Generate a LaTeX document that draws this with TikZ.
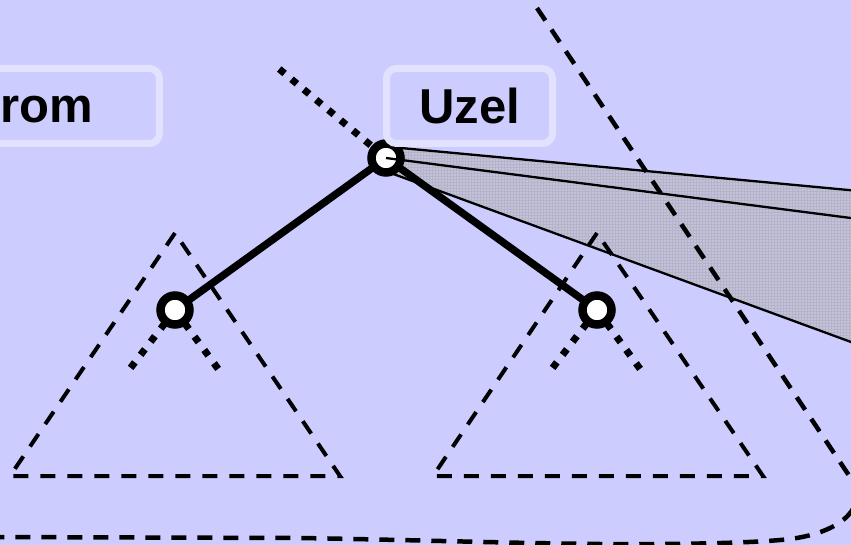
\documentclass[tikz,border=0pt]{standalone}
\usepackage{fontspec}
\setmainfont{Liberation Sans}
\usetikzlibrary{patterns,calc}
\definecolor{bgcol}{RGB}{204,204,255}
\definecolor{boxrim}{RGB}{226,226,255}
\definecolor{fancol}{RGB}{194,194,222}
\definecolor{gridcol}{RGB}{180,180,198}
\pgfdeclarelayer{back}
\pgfdeclarelayer{under}
\pgfsetlayers{back,under,main}

\begin{document}
\begin{tikzpicture}[x=1pt,y=-1pt,
  treenode/.style={circle,draw=black,fill=white,line width=8.5pt,minimum size=29pt,inner sep=0pt,outer sep=0pt},
  labelbox/.style={draw=boxrim,fill=bgcol,line width=7pt,rounded corners=10pt,
    minimum height=75pt,inner sep=0pt,font=\bfseries\fontsize{49}{49}\selectfont},
  edge/.style={line width=7.5pt},
  dotline/.style={line width=7pt,dash pattern=on 7pt off 9pt},
  tri/.style={line width=4pt,dash pattern=on 15pt off 12pt},
  hull/.style={line width=4.5pt,dash pattern=on 15pt off 11pt},
  ray/.style={line width=2.3pt}]

\useasboundingbox (0,0) rectangle (851,545);
\clip (0,0) rectangle (851,545);

% tree nodes
\node[treenode] (root) at (386,158) {};
\node[treenode] (lc) at (175,310) {};
\node[treenode] (rc) at (597,310) {};

% ends of the rays and of the dotted stubs
\coordinate (rayT0) at ($(root.center)+(0,-11.4)$);
\coordinate (rayT1) at (860,191.1);
\coordinate (rayM1) at (860,219.2);
\coordinate (rayB0) at ($(root.center)+(0,13.3)$);
\coordinate (rayB1) at (860,345.3);
\coordinate (up) at ($(root.center)+(-107.5,-89.6)$);
\coordinate (lcL) at ($(lc.center)+(-44.4,57.9)$);
\coordinate (lcR) at ($(lc.center)+(43.1,58.9)$);
\coordinate (rcL) at ($(rc.center)+(-44.4,57.9)$);
\coordinate (rcR) at ($(rc.center)+(43.1,58.9)$);

\begin{pgfonlayer}{back}
  \fill[bgcol] (0,0) rectangle (851,545);
  \fill[fancol] (rayT0) -- (rayT1) -- (rayB1) -- (rayB0) -- cycle;
  \fill[pattern=grid,pattern color=gridcol] (rayT0) -- (rayT1) -- (rayB1) -- (rayB0) -- cycle;
\end{pgfonlayer}

\begin{pgfonlayer}{under}
  % subtrees
  \draw[tri] (175,233) -- (10,476) -- (340,476) -- cycle;
  \draw[tri] (597,233) -- (433,476) -- (763,476) -- cycle;
  % outline of the whole tree
  \draw[hull] (537,8) -- (852,480)
    .. controls (868,504) and (845,532) .. (790,539)
    .. controls (760,542.5) and (700,544.5) .. (600,544)
    .. controls (500,543) and (420,540) .. (300,538) -- (-10,537);
  % edges
  \draw[edge] (root.center) -- (lc.center);
  \draw[edge] (root.center) -- (rc.center);
  % dotted stubs
  \draw[dotline,dash phase=12pt] (root.center) -- (up);
  \draw[dotline,dash pattern=on 7pt off 9.5pt] (lc.center) -- (lcL);
  \draw[dotline,dash pattern=on 7pt off 9.5pt] (lc.center) -- (lcR);
  \draw[dotline,dash pattern=on 7pt off 9.5pt] (rc.center) -- (rcL);
  \draw[dotline,dash pattern=on 7pt off 9.5pt] (rc.center) -- (rcR);
\end{pgfonlayer}

% rays
\draw[ray] (rayT0) -- (rayT1);
\draw[ray] (root.center) -- (rayM1);
\draw[ray] (rayB0) -- (rayB1);

% labels
\node[labelbox,minimum width=274pt] (strom) at (22.4,106) {Strom};
\node[labelbox,minimum width=166pt] (uzel) at (469.5,106) {Uzel};
\end{tikzpicture}
\end{document}
